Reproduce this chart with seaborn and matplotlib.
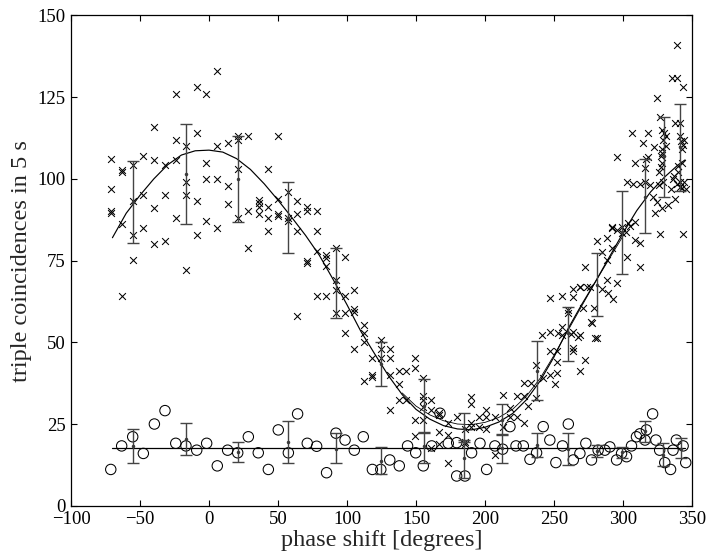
import numpy as np
import pandas as pd
import matplotlib
matplotlib.use("Agg")
import matplotlib.pyplot as plt
import seaborn as sns

# -----------------------------
# Data
# -----------------------------
# triple coincidences (x markers)
triple_x = [-71, -71, -71, -71, -63, -63, -63, -63, -55, -55, -55, -55,
            -48, -48, -48, -40, -40, -40, -40, -32, -32, -32,
            -24, -24, -24, -24, -17, -17, -17, -17, -9, -9, -9, -9,
            -2, -2, -2, -2, 6, 6, 6, 6, 13.5, 13.5, 13.5,
            21, 21, 21, 21, 28.5, 28.5, 28.5, 36, 36, 36, 36,
            43, 43, 43, 43, 50, 50, 50, 50, 57.5, 57.5, 57.5,
            64, 64, 64, 64, 71, 71, 71, 71, 78, 78, 78, 78,
            85, 85, 85, 85, 92, 92, 92, 92, 98.6, 98.6, 98.6, 98.6,
            105, 105, 105, 105, 112, 112, 112, 112, 118, 118, 118,
            124.5, 124.5, 124.5, 131, 131, 131, 131, 138, 138, 138,
            143, 143, 149, 149, 149, 149, 155, 155, 155, 155, 155,
            161, 161, 161, 167, 167, 167, 167, 173, 173, 173, 179.5,
            185.5, 185.5, 185.5, 190, 190, 190, 190, 196, 196,
            201, 201, 201, 207, 207, 213, 213, 218, 218, 223, 223,
            228, 228, 228, 231.5, 233, 237, 237, 241, 242,
            247, 247, 247, 251, 252, 252, 252, 247, 255.5, 264, 268.8, 273.6,
            255.5, 255.5, 260.4, 260.4, 264, 268.8, 264, 264, 268.8, 272.5,
            271.4, 279, 277, 281,
            302.7, 307, 312, 316, 319.6, 341.3, 345.7,
            321.7, 325, 328.5, 323, 333, 337.7,
            291.8, 296, 305, 302, 308.7, 312.3, 326.8, 343.5,
            280.9, 288.2, 284.6, 291.8, 302.7, 312.3, 272.5, 288.2,
            288.2, 295.4, 268.8, 284.6, 289.4, 293, 264, 276.1,
            277.3, 253, 262.7, 267.5, 279.6,
            338.9, 335.3, 338.9, 343.3, 324.4, 326.8, 337.7, 341.3,
            306.3, 318.3, 328, 329.5, 331, 341, 342, 343.5, 343, 344,
            314.7, 322.7, 329, 331, 328.5, 328.5, 327.5,
            295.4, 318.3, 317, 308.7, 316, 326, 328, 327.5,
            337, 340, 343, 336, 340, 326, 329, 335, 338.9, 341, 344,
            342.5, 291.8, 299, 303.9, 299, 308.7]
triple_y = [106, 97, 90.2, 89.5, 102.7, 102.1, 86.2, 64.2, 104.1, 93.1, 82.9, 75.2,
            107, 95.1, 85.1, 116, 105.8, 91, 80, 104.1, 95.1, 81.1,
            125.9, 111.9, 105.8, 88, 110.1, 99, 95.1, 72.2, 128, 114, 93.1, 82.9,
            125.9, 105, 100, 87.1, 133.1, 110.1, 100, 85.1, 110.9, 97.9, 92.2,
            113, 112, 103, 88, 113, 90.2, 79, 93.5, 92.5, 91.5, 89.2,
            103, 91.5, 88, 84.2, 113, 93.9, 89.2, 88.6, 96.1, 88, 87.1,
            93.1, 89.2, 84.2, 58.1, 91.5, 90.2, 74.9, 74.3, 90.2, 84.2, 78, 64.2,
            76.7, 75.8, 73.2, 64.2, 79, 69.1, 66.1, 59.1, 76, 64.2, 59.1, 53,
            66.1, 60.1, 59.4, 48, 55.3, 53, 50.2, 38.2, 45.1, 40, 39.4,
            50.7, 48, 45.1, 48, 45.1, 40, 29.3, 41.3, 37.2, 32.3,
            41.3, 32.3, 45.1, 42, 26.2, 21.4, 39, 33.5, 32.3, 30.3, 26.2,
            32.3, 29.3, 17.6, 28.3, 27.8, 22.6, 18.9, 25.2, 21.7, 13.2, 27.2,
            23.6, 19.6, 19, 33.2, 31.1, 25.2, 24.2, 27.2, 24.2,
            29.3, 27.2, 23.6, 27.2, 15.6, 33.9, 24.2, 29.8, 27.2, 33.5, 27.2,
            37.5, 33.5, 25.2, 30.5, 37.5, 43.1, 32.9, 52.2, 39,
            53.3, 47.2, 40, 37.2, 47.2, 44.1, 40.5, 63.5, 64.2, 66.3, 67, 67,
            54.8, 52.2, 60, 59, 53.3, 52.3, 48.2, 47.2, 41.3, 44.6,
            60.5, 60.5, 56.3, 51.2,
            99, 98.5, 98.5, 99, 98, 99, 97,
            94.6, 93, 91, 89.6, 92, 94,
            85, 84.5, 85.5, 83.6, 81.3, 80.3, 83.2, 83.2,
            81, 81.8, 77.7, 78.8, 76, 73, 73, 75.2,
            69.1, 68.1, 67, 66.2, 65, 63.2, 64, 67,
            56, 53, 52.5, 51.5, 51.3,
            141, 130.8, 130.8, 128, 124.9, 118.9, 117.2, 117.2,
            114, 114, 115, 114, 113, 113, 111.5, 110.5, 109, 112,
            110.9, 109.9, 112, 110, 109, 108, 107,
            106.8, 106.8, 106, 104.8, 103.3, 102, 105, 103.5,
            101, 104, 105, 100, 102, 98, 99, 97, 98.5, 97.5, 99,
            97.1, 85.4, 85.4, 86.4, 83.4, 86.7]

# accidental coincidences (circles)
acc_x = [-71.2, -63.3, -55.3, -47.6, -39.6, -31.9, -24.1, -16.7, -8.9, -1.7,
         6, 13.5, 20.8, 28.5, 35.7, 43, 50.2, 57.5, 64.2, 71.2, 78, 85.2, 92,
         98.6, 105.3, 111.8, 118.4, 124.5, 131, 137.9, 143.9, 149.8, 155.3,
         161.4, 167.4, 173.4, 179.5, 179.5, 185.5, 190.3, 196.4, 201.2, 207.2,
         212.8, 218.1, 222.5, 227.8, 232.6, 237.4, 242.2, 247, 251.4, 256.2,
         260.4, 264, 268.8, 273.1, 277.2, 282, 286.9, 290.5, 295.4, 299,
         302.6, 306.2, 309.8, 312.3, 317, 316, 321.5, 323.9, 326.6, 330.3,
         334.5, 336.3, 338.7, 343.6, 345.5]
acc_y = [11.1, 18.3, 21.1, 16, 25, 29.1, 19.1, 18.3, 17, 19.1,
         12.2, 17, 16.2, 21.1, 16.2, 11.1, 23.2, 16.2, 28.1, 19.1, 18.2, 10.1, 22.2,
         20.1, 17, 21.1, 11.1, 11.1, 14, 12.2, 18.3, 16.2, 12.2,
         18.3, 28.3, 19.1, 19.3, 9.1, 9.1, 16.2, 19.1, 11.1, 18.3,
         17.3, 24.2, 18.3, 18.3, 14.2, 16.2, 24.2, 20.1, 13.2, 18.3,
         25, 14, 16, 19.1, 14, 17, 17, 18, 14, 16,
         15, 18.3, 21.1, 22, 23.2, 20.1, 28.1, 20.1, 17, 13.2,
         11.1, 17, 20.1, 18.3, 13.2]

# binned means with error bars
bin_x = [-55.3, -16.7, 20.8, 57.5, 92, 124.5, 155.8, 185, 212, 237.4,
         260.4, 281, 299.5, 316, 329.7, 341.3]
triple_mean = [93, 101.5, 100, 88, 68.6, 43.4, 30.5, 23.7, 26.2, 41.3,
               52.8, 67.6, 83.6, 94.6, 107, 109.7]
triple_lo = [80.3, 86.1, 86.9, 77.3, 57.5, 36.6, 22.5, 19.5, 21.6, 32.3,
             44.3, 58.1, 70.8, 83.4, 94.4, 96.4]
triple_hi = [105.5, 116.7, 113.2, 99.2, 79, 50, 38.8, 28.3, 31, 50.5,
             60.9, 77.4, 96.3, 106, 118.9, 122.9]

acc_bin_x = [-55.3, -16.7, 20.8, 57.5, 92, 124.5, 155.8, 185, 212, 237.4,
             260.4, 281.4, 299, 316, 329.3, 341.9]
acc_mean = [18.4, 20.4, 16.5, 19.4, 17.4, 13.8, 18.2, 14.5, 17.6, 18.6,
            17.5, 16.8, 16.3, 22.9, 15.6, 17.5]
acc_lo = [13, 15.5, 13.3, 13, 13, 9.7, 13.1, 8.5, 13.2, 14.8,
          12.5, 15, 14.5, 19.6, 12.2, 14.5]
acc_hi = [23.6, 25.2, 19.6, 25.9, 22.4, 18.1, 22.2, 20, 22, 22.4,
          22.2, 18.6, 18.1, 26, 19.1, 20.6]

# fitted curves
fit_x = [-70, -60, -50, -40, -30, -20, -10, 0, 10, 20, 30, 40, 50, 60, 70,
         80, 90, 100, 110, 120, 130, 140, 150, 160, 170, 180, 190, 200, 210,
         220, 230, 240, 250, 260, 270, 280, 290, 300, 310, 320, 330, 340, 345]
fit_y = [82, 89.5, 95, 100, 104.3, 107.3, 108.6, 108.8, 108.2, 106.2, 102.9,
         98.5, 93.5, 88.2, 82.7, 76.6, 69.2, 61.5, 53.4, 46.5, 39.8, 34, 29.5,
         26.5, 24.5, 23.5, 23.2, 24, 25.6, 28.2, 32.4, 38.2, 45.5, 54, 61.5,
         68.5, 76, 83.4, 90.3, 96, 100.5, 104.3, 105.8]
fit2_x = [140, 150, 160, 170, 180, 190, 200, 210, 220, 230, 240, 250, 260,
          270, 280, 290, 300]
fit2_y = [34.5, 30.5, 27.8, 26, 25, 24.8, 25.5, 27, 29.5, 33.5, 39, 46, 53.5,
          61, 68.5, 75.5, 82.5]
flat_x = [-70, 345]
flat_y = [17.6, 17.6]

# -----------------------------
# Plot
# -----------------------------
sns.set_theme(style="ticks")
plt.rcParams["font.family"] = ["Liberation Serif", "DejaVu Serif"]

fig = plt.figure(figsize=(7.11, 5.59), dpi=100)
ax = fig.add_axes([0.0999, 0.0953, 0.8733, 0.877])

df_t = pd.DataFrame({"phase": triple_x, "counts": triple_y})
df_a = pd.DataFrame({"phase": acc_x, "counts": acc_y})

sns.scatterplot(data=df_t, x="phase", y="counts", marker="x", s=24,
                color="black", linewidth=0.75, ax=ax, zorder=3)
sns.scatterplot(data=df_a, x="phase", y="counts", marker="o", s=56,
                color="black", facecolors="none", edgecolor="black",
                linewidth=0.75, ax=ax, zorder=3)

sns.lineplot(x=fit_x, y=fit_y, color="black", linewidth=0.85, ax=ax,
             estimator=None, sort=False)
sns.lineplot(x=fit2_x, y=fit2_y, color="black", linewidth=0.6, ax=ax,
             estimator=None, sort=False)
sns.lineplot(x=flat_x, y=flat_y, color="black", linewidth=0.9, ax=ax,
             estimator=None, sort=False)

tm = np.array(triple_mean)
ax.errorbar(bin_x, tm, yerr=[tm - np.array(triple_lo), np.array(triple_hi) - tm],
            fmt=".", ms=3, color="#3a3a3a", ecolor="#444444", elinewidth=1,
            capsize=4, capthick=1, zorder=4)
am = np.array(acc_mean)
ax.errorbar(acc_bin_x, am, yerr=[am - np.array(acc_lo), np.array(acc_hi) - am],
            fmt=".", ms=3, color="#3a3a3a", ecolor="#444444", elinewidth=1,
            capsize=4, capthick=1, zorder=4)

ax.set_xlim(-100, 350)
ax.set_ylim(0, 150)
ax.set_xticks(range(-100, 351, 50))
ax.set_yticks(range(0, 151, 25))
ax.tick_params(direction="in", top=True, right=True, length=4, width=0.8,
               labelsize=13.5, pad=4, colors="black")
for sp in ax.spines.values():
    sp.set_visible(True)
    sp.set_color("black")
    sp.set_linewidth(0.9)

ax.set_xlabel("phase shift [degrees]", fontsize=17.5, labelpad=1)
ax.set_ylabel("triple coincidences in 5 s", fontsize=17.5, labelpad=4)

fig.savefig("out.png", dpi=100)
